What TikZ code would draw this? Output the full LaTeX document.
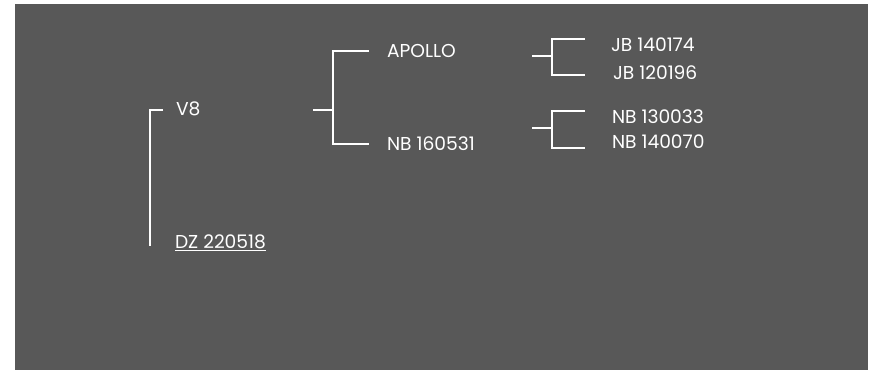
\documentclass[tikz,border=0pt]{standalone}
\usepackage{fontspec}
\setmainfont{Poppins}
\usetikzlibrary{positioning,calc}

\definecolor{panelgray}{HTML}{585858}

\begin{document}
\begin{tikzpicture}[
	x=0.75pt,y=-0.75pt,
	line width=1.5pt,
	every node/.style={font=\fontsize{14}{16}\selectfont, text=white, inner sep=0pt, anchor=west},
	branch/.style={draw=white, line cap=butt}
	]
	
	% --------------------------
	% canvas
	% --------------------------
	\useasboundingbox (0,0) rectangle (879,370);
	\fill[panelgray] (15,4) rectangle (868,370);
	
	% --------------------------
	% labels
	% --------------------------
	\node (v8) at (175,109) {V8};
	\node (dz) at (174,243) {\underline{DZ 220518}};
	
	\node (apollo) at (386,51) {APOLLO};
	\node (nbA) at (386,144) {NB 160531};
	
	\node (jbA) at (610,45) {JB 140174};
	\node (jbB) at (612,73) {JB 120196};
	\node (nbB) at (611,117) {NB 130033};
	\node (nbC) at (611,142) {NB 140070};
	
	% --------------------------
	% junction points
	% --------------------------
	\coordinate (v8end) at (163,110);
	\coordinate (dzend) at (150,246);
	
	\coordinate (mStub) at (313,110);
	\coordinate (mJoin) at (333,110);
	\coordinate (mTop) at (369,51);
	\coordinate (mBot) at (369,144);
	
	\coordinate (jStub) at (532,56);
	\coordinate (jJoin) at (552,56);
	\coordinate (jTop) at (585,39);
	\coordinate (jBot) at (585,75);
	
	\coordinate (nStub) at (532,128);
	\coordinate (nJoin) at (552,128);
	\coordinate (nTop) at (585,111);
	\coordinate (nBot) at (585,148);
	
	% --------------------------
	% brackets
	% --------------------------
	\draw[branch] (v8end) -| (dzend);
	
	\draw[branch] (mStub) -- (mJoin);
	\draw[branch] (mTop) -| (mJoin) |- (mBot);
	
	\draw[branch] (jStub) -- (jJoin);
	\draw[branch] (jTop) -| (jJoin) |- (jBot);
	
	\draw[branch] (nStub) -- (nJoin);
	\draw[branch] (nTop) -| (nJoin) |- (nBot);
	
\end{tikzpicture}
\end{document}
